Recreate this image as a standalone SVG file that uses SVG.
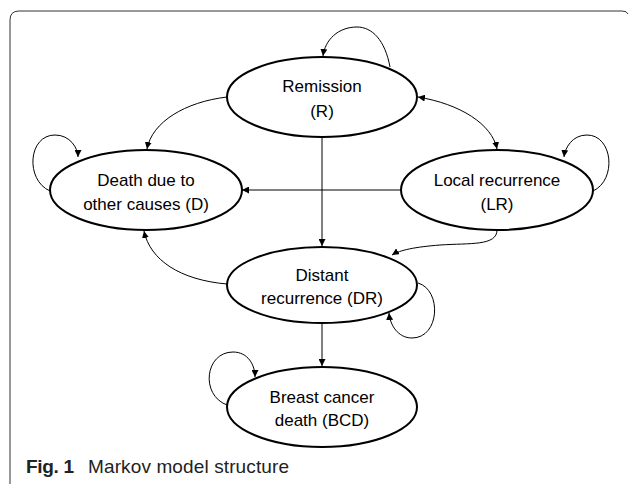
<svg xmlns="http://www.w3.org/2000/svg" width="630" height="484" viewBox="0 0 630 484">
<style>
.node ellipse{fill:#fff;stroke:#000;stroke-width:2}
.node text{font-family:"Liberation Sans",Arial,sans-serif;font-size:17px;fill:#000;text-anchor:middle}
.edge{fill:none;stroke:#000;stroke-width:1}
.cap{font-family:"Liberation Sans",Arial,sans-serif;font-size:19px;fill:#222}
</style>
<defs>
<marker id="ah" viewBox="0 0 10 10" refX="10" refY="5" markerWidth="7" markerHeight="7" markerUnits="userSpaceOnUse" orient="auto-start-reverse">
<path d="M0,0 L10,5 L0,10 z" fill="#000"/>
</marker>
</defs>
<path d="M10,484 L10,20 Q10,11 19,11 L622,11 Q627,11 628,14" fill="none" stroke="#333" stroke-width="1"/>
<g id="connectors">
<path class="edge" d="M390,67 C385,40 372,27 357,27 C338,27 325,40 323,56" marker-end="url(#ah)"/>
<path class="edge" d="M227,97 C185,102 152,122 147,149" marker-end="url(#ah)"/>
<path class="edge" d="M418,97 C460,104 492,124 497,149" marker-start="url(#ah)" marker-end="url(#ah)"/>
<path class="edge" d="M322,136 L322,246" marker-end="url(#ah)"/>
<path class="edge" d="M402,190 L242,190" marker-end="url(#ah)"/>
<path class="edge" d="M497,230 C497,246 470,243 440,245 C415,247 400,250 392,255" marker-end="url(#ah)"/>
<path class="edge" d="M227,284 C180,280 150,260 144,231" marker-end="url(#ah)"/>
<path class="edge" d="M322,323 L322,366" marker-end="url(#ah)"/>
<path class="edge" d="M50,191 C25,180 28,135 55,135 C70,135 78,148 78,157" marker-end="url(#ah)"/>
<path class="edge" d="M593,191 C617,180 613,135 587,135 C572,135 565,148 564,157" marker-end="url(#ah)"/>
<path class="edge" d="M418,283 C442,290 440,338 412,338 C398,338 390,325 389,313" marker-end="url(#ah)"/>
<path class="edge" d="M227,405 C200,395 205,352 233,352 C248,352 255,365 255,377" marker-end="url(#ah)"/>
</g>
<g id="R" class="node">
<ellipse cx="322" cy="97" rx="95" ry="40"/>
<text x="322" y="92">Remission</text>
<text x="322" y="117">(R)</text>
</g>
<g id="D" class="node">
<ellipse cx="146" cy="190" rx="96" ry="40"/>
<text x="146" y="186">Death due to</text>
<text x="146" y="210">other causes (D)</text>
</g>
<g id="LR" class="node">
<ellipse cx="497" cy="190" rx="96" ry="40"/>
<text x="497" y="186">Local recurrence</text>
<text x="497" y="210">(LR)</text>
</g>
<g id="DR" class="node">
<ellipse cx="322" cy="285" rx="95" ry="38"/>
<text x="322" y="281">Distant</text>
<text x="322" y="304">recurrence (DR)</text>
</g>
<g id="BCD" class="node">
<ellipse cx="322" cy="407" rx="95" ry="40"/>
<text x="322" y="403">Breast cancer</text>
<text x="322" y="426">death (BCD)</text>
</g>
<text class="cap" x="26" y="473"><tspan font-weight="bold" textLength="48">Fig. 1</tspan><tspan x="88" textLength="201">Markov model structure</tspan></text>
</svg>
